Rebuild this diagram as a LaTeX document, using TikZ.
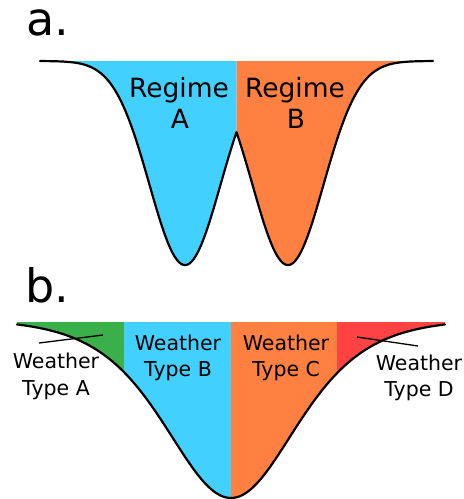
\documentclass[tikz,border=0pt]{standalone}
\usepackage{fontspec}
\setmainfont{DejaVu Sans}
\definecolor{cblue}{RGB}{66,208,255}
\definecolor{corange}{RGB}{255,128,64}
\definecolor{cgreen}{RGB}{59,176,74}
\definecolor{cred}{RGB}{255,66,66}
\begin{document}
\begin{tikzpicture}[x=1pt,y=-1pt,
  declare function={
    ga(\x)=61+204*exp(-0.5*((\x-185)/35.5)*((\x-185)/35.5));
    gb(\x)=61+204*exp(-0.5*((\x-288)/35.5)*((\x-288)/35.5));
    sb(\x)=319+179*4/((exp((\x-231)/88)+exp(-(\x-231)/88))*(exp((\x-231)/88)+exp(-(\x-231)/88)));
  },
  curve/.style={line width=2.2pt,line join=round,line cap=round},
  ptr/.style={line width=1.3pt},
  big/.style={font=\fontsize{46}{50}\selectfont,anchor=base west,inner sep=0pt},
  reg/.style={font=\fontsize{26.5}{30}\selectfont,anchor=base,inner sep=0pt},
  wt/.style={font=\fontsize{20.5}{24}\selectfont,anchor=base,inner sep=0pt}]
\useasboundingbox (0,0) rectangle (464,499);
% ---- part a ----
\fill[cblue] (40,61) -- plot[domain=40:236.5,samples=150,smooth] (\x,{ga(\x)}) -- (236.5,61) -- cycle;
\fill[corange] (236.5,61) -- plot[domain=236.5:433,samples=150,smooth] (\x,{gb(\x)}) -- (433,61) -- cycle;
\draw[curve] plot[domain=40:236.5,samples=150,smooth] (\x,{ga(\x)}) -- plot[domain=236.5:433,samples=150,smooth] (\x,{gb(\x)});
\node[big] (la) at (26,35) {a.};
\node[reg] (ra1) at (179,97) {Regime};
\node[reg] (ra2) at (180,128) {A};
\node[reg] (rb1) at (295,97) {Regime};
\node[reg] (rb2) at (296,128) {B};
% ---- part b ----
\fill[cgreen] (17,322) -- plot[domain=17:124,samples=80,smooth] (\x,{sb(\x)}) -- (124,322) -- cycle;
\fill[cblue] (124,322) -- plot[domain=124:231,samples=80,smooth] (\x,{sb(\x)}) -- (231,322) -- cycle;
\fill[corange] (231,322) -- plot[domain=231:337,samples=80,smooth] (\x,{sb(\x)}) -- (337,322) -- cycle;
\fill[cred] (337,322) -- plot[domain=337:445,samples=80,smooth] (\x,{sb(\x)}) -- (445,322) -- cycle;
\draw[curve] plot[domain=17:445,samples=250,smooth] (\x,{sb(\x)});
\node[big] (lb) at (25,302) {b.};
\coordinate (pa1) at (39,343);
\coordinate (pa2) at (103,335);
\coordinate (pd1) at (357,337);
\coordinate (pd2) at (418,346);
\draw[ptr] (pa1) -- (pa2);
\draw[ptr] (pd1) -- (pd2);
\node[wt] (wa1) at (56,368) {Weather};
\node[wt] (wa2) at (56,395) {Type A};
\node[wt] (wb1) at (178,350) {Weather};
\node[wt] (wb2) at (178,376) {Type B};
\node[wt] (wc1) at (286,350) {Weather};
\node[wt] (wc2) at (286,376) {Type C};
\node[wt] (wd1) at (419,370) {Weather};
\node[wt] (wd2) at (419,396) {Type D};
\end{tikzpicture}
\end{document}
